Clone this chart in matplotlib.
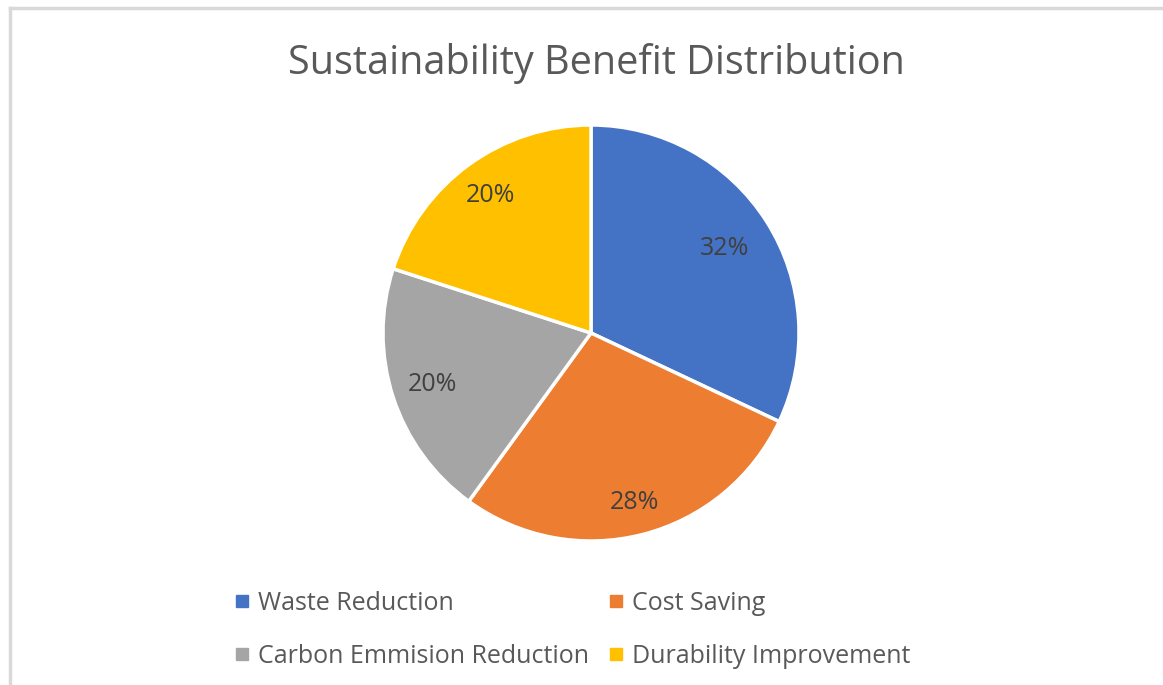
import matplotlib.pyplot as plt
from matplotlib.lines import Line2D
import numpy as np

# datos del grafico
categorias = ["Waste Reduction", "Cost Saving", "Carbon Emmision Reduction", "Durability Improvement"]
valores = [32, 28, 20, 20]
colores = ["#4472C4", "#ED7D31", "#A5A5A5", "#FFC000"]
titulo = "Sustainability Benefit Distribution"

W, H = 1163, 685
fig = plt.figure(figsize=(W / 100, H / 100), dpi=100)
plt.rcParams['font.family'] = ['Open Sans', 'DejaVu Sans']

# borde gris arriba e izquierda
fig.add_artist(Line2D([9.5 / W, 9.5 / W], [0, 1 - 8 / H], color="#d9d9d9", lw=2.5, transform=fig.transFigure))
fig.add_artist(Line2D([9.5 / W, 1], [1 - 8 / H, 1 - 8 / H], color="#d9d9d9", lw=2.5, transform=fig.transFigure))

# pie
cx, cy, R = 591, 333, 208
ax = fig.add_axes([(cx - R) / W, (H - cy - R) / H, 2 * R / W, 2 * R / H])
wedges, _ = ax.pie(valores, colors=colores, startangle=90, counterclock=False,
                   wedgeprops=dict(edgecolor="white", linewidth=2.5))
ax.set_xlim(-1, 1)
ax.set_ylim(-1, 1)
ax.set_aspect("equal")
ax.axis("off")

# etiquetas de porcentaje (distancia tipo "best fit" de Excel)
dist = [0.76, 0.84, 0.80, 0.82]
total = sum(valores)
acum = 0
for i, v in enumerate(valores):
    ang = np.deg2rad(90 - 360 * (acum + v / 2) / total)
    acum += v
    ax.text(dist[i] * np.cos(ang), dist[i] * np.sin(ang), f"{v / total * 100:.0f}%",
            ha="center", va="center", fontsize=18, color="#404040")

fig.text(596 / W, 1 - 63 / H, titulo, ha="center", va="center", fontsize=28.5, color="#595959")

# leyenda (orden por filas como Excel)
orden = [0, 2, 1, 3]
handles = [Line2D([], [], marker="s", linestyle="", markersize=8.6, color=colores[i]) for i in orden]
leg = fig.legend(handles, [categorias[i] for i in orden], ncol=2, loc="upper left",
                 bbox_to_anchor=(226 / W, 1 - 581 / H), frameon=False,
                 fontsize=18, labelcolor="#595959", handlelength=0.5, handletextpad=0.4,
                 columnspacing=0.82, labelspacing=1.11, borderaxespad=0)

fig.savefig("out.png", dpi=100, facecolor="white")
